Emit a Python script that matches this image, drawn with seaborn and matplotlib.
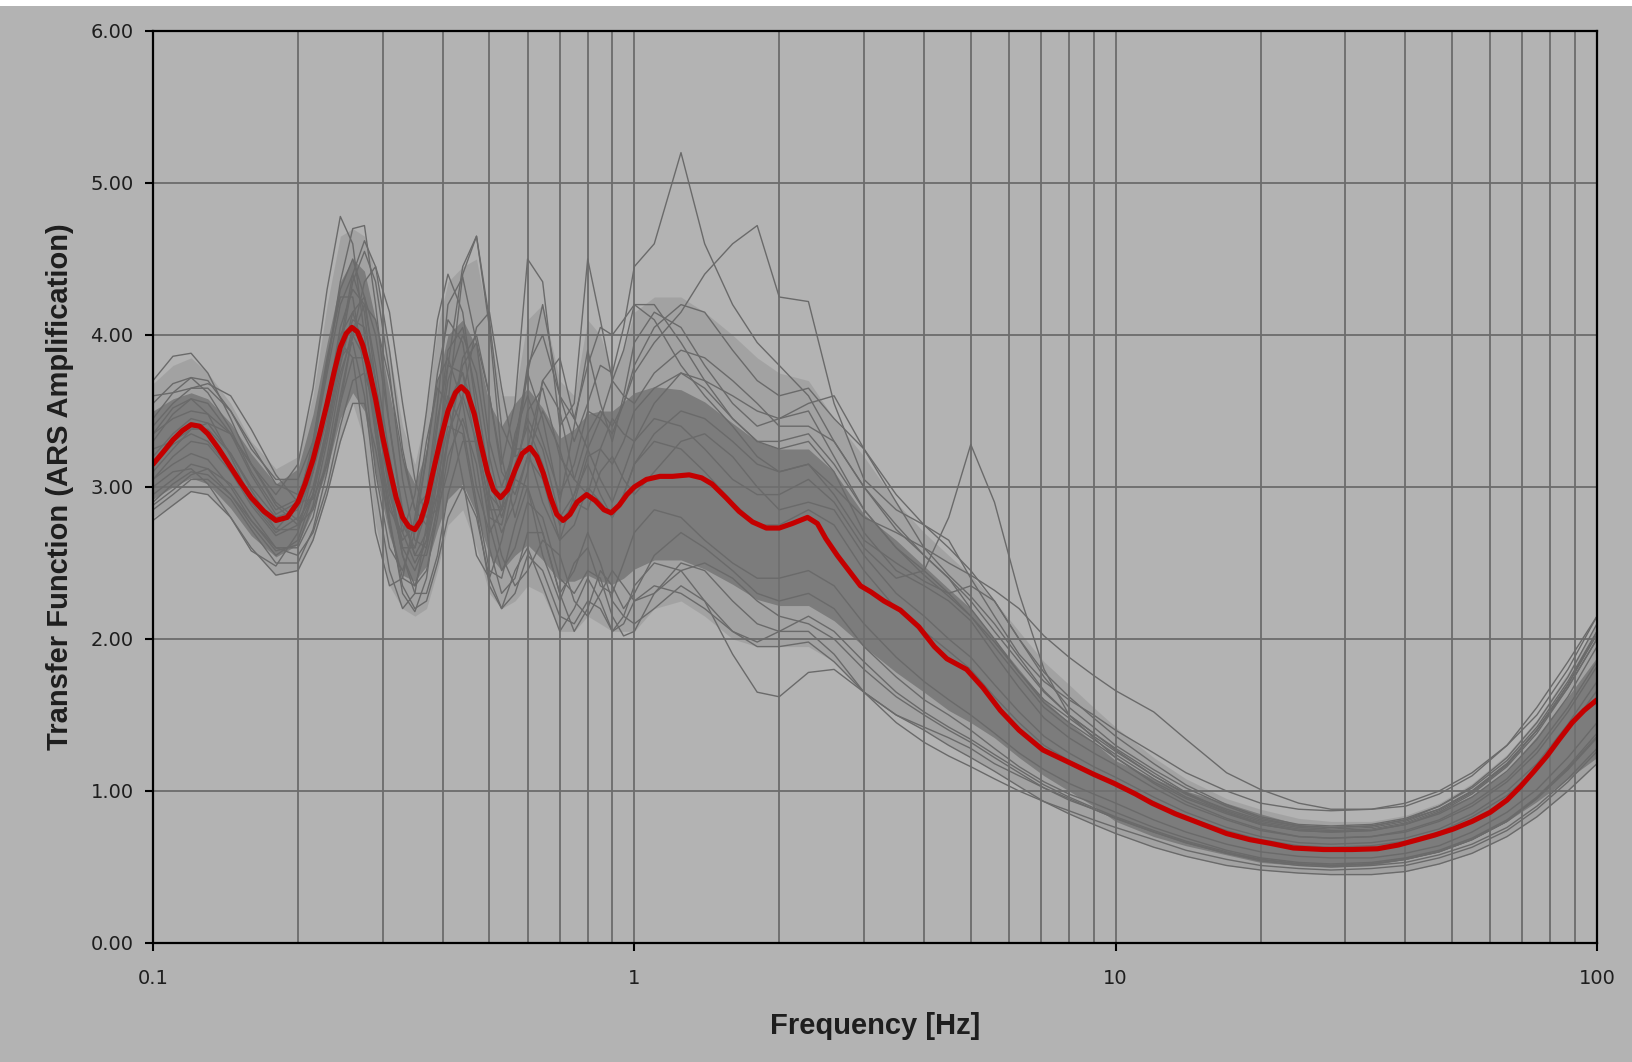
import numpy as np
import pandas as pd
import matplotlib
matplotlib.use('Agg')
import matplotlib.pyplot as plt
import seaborn as sns
from matplotlib.ticker import FixedLocator, FuncFormatter, LogLocator, NullFormatter
from matplotlib.patches import Rectangle

# Frequency grid (Hz) shared by the gray realisations
freq_hz = [0.10, 0.11, 0.12, 0.13, 0.145, 0.16, 0.18, 0.20, 0.215, 0.23,
           0.245, 0.26, 0.275, 0.29, 0.31, 0.33, 0.35, 0.37, 0.39, 0.41,
           0.44, 0.47, 0.50, 0.53, 0.565, 0.60, 0.645, 0.70, 0.75, 0.80,
           0.85, 0.90, 0.95, 1.0, 1.1, 1.25, 1.4, 1.6, 1.8, 2.0,
           2.3, 2.6, 3.0, 3.5, 4.0, 4.5, 5.0, 5.6, 6.3, 7.1,
           8.0, 9.0, 10, 12, 14, 17, 20, 24, 28, 34,
           40, 47, 55, 65, 75, 87, 100]

# Median transfer function (red), read on its own finer grid
median_freq = [0.100, 0.105, 0.110, 0.115, 0.120, 0.125, 0.130, 0.137, 0.145, 0.152,
               0.160, 0.170, 0.180, 0.190, 0.200, 0.207, 0.215, 0.222, 0.230, 0.238,
               0.245, 0.252, 0.259, 0.266, 0.273, 0.280, 0.290, 0.300, 0.310, 0.320,
               0.330, 0.340, 0.350, 0.360, 0.370, 0.380, 0.395, 0.410, 0.425, 0.437,
               0.450, 0.465, 0.480, 0.495, 0.510, 0.527, 0.545, 0.565, 0.585, 0.607,
               0.627, 0.647, 0.670, 0.690, 0.711, 0.735, 0.760, 0.796, 0.830, 0.865,
               0.895, 0.930, 0.965, 1.000, 1.060, 1.130, 1.200, 1.300, 1.380, 1.450,
               1.550, 1.650, 1.760, 1.880, 2.000, 2.130, 2.290, 2.400, 2.500, 2.640,
               2.760, 2.950, 3.100, 3.300, 3.570, 3.900, 4.200, 4.460, 4.900, 5.300,
               5.760, 6.300, 7.060, 8.100, 9.000, 9.930, 11.00, 11.90, 13.30, 14.90,
               17.00, 19.00, 21.00, 23.40, 27.00, 31.00, 35.00, 38.70, 42.50, 46.00,
               50.30, 55.00, 60.00, 65.00, 69.40, 74.00, 78.70, 83.50, 88.80, 94.00,
               100.0]
median_amp = [3.15, 3.23, 3.31, 3.37, 3.41, 3.40, 3.35, 3.25, 3.13, 3.03,
              2.93, 2.84, 2.78, 2.80, 2.90, 3.02, 3.18, 3.35, 3.55, 3.76,
              3.92, 4.01, 4.05, 4.02, 3.93, 3.80, 3.58, 3.33, 3.12, 2.93,
              2.80, 2.74, 2.72, 2.78, 2.90, 3.07, 3.30, 3.50, 3.62, 3.66,
              3.62, 3.48, 3.28, 3.10, 2.98, 2.93, 2.98, 3.11, 3.22, 3.26,
              3.20, 3.09, 2.93, 2.82, 2.78, 2.82, 2.90, 2.95, 2.91, 2.85,
              2.83, 2.88, 2.95, 3.00, 3.05, 3.07, 3.07, 3.08, 3.06, 3.02,
              2.93, 2.84, 2.77, 2.73, 2.73, 2.76, 2.80, 2.76, 2.66, 2.55,
              2.47, 2.35, 2.31, 2.25, 2.19, 2.08, 1.95, 1.87, 1.80, 1.68,
              1.53, 1.40, 1.27, 1.18, 1.11, 1.05, 0.98, 0.92, 0.85, 0.79,
              0.72, 0.68, 0.655, 0.625, 0.615, 0.615, 0.62, 0.645, 0.68, 0.71,
              0.75, 0.80, 0.86, 0.94, 1.03, 1.13, 1.23, 1.34, 1.45, 1.53,
              1.60]

# Overall spread of the realisations (where lines are still frequent)
spread_low = [2.80, 2.88, 2.97, 2.95, 2.80, 2.60, 2.42, 2.45, 2.65, 2.95,
              3.30, 3.55, 3.30, 2.75, 2.35, 2.20, 2.15, 2.20, 2.45, 2.75,
              2.85, 2.60, 2.30, 2.20, 2.25, 2.35, 2.30, 2.05, 2.05, 2.15,
              2.10, 2.05, 2.05, 2.05, 2.20, 2.25, 2.15, 2.00, 1.95, 1.95,
              1.95, 1.85, 1.65, 1.50, 1.40, 1.30, 1.22, 1.13, 1.03, 0.93,
              0.85, 0.78, 0.72, 0.63, 0.57, 0.51, 0.48, 0.46, 0.45, 0.45,
              0.47, 0.52, 0.59, 0.70, 0.83, 1.00, 1.18]
spread_high = [3.68, 3.80, 3.85, 3.75, 3.55, 3.30, 3.12, 3.20, 3.60, 4.20,
               4.65, 4.70, 4.65, 4.40, 3.90, 3.40, 3.15, 3.50, 4.05, 4.35,
               4.45, 4.50, 4.05, 3.60, 3.60, 4.10, 4.20, 3.70, 3.60, 4.10,
               4.00, 3.75, 3.90, 4.15, 4.25, 4.25, 4.15, 4.00, 3.85, 3.75,
               3.70, 3.45, 3.20, 2.90, 2.70, 2.55, 2.42, 2.25, 2.05, 1.85,
               1.70, 1.55, 1.42, 1.22, 1.08, 0.95, 0.88, 0.82, 0.80, 0.80,
               0.84, 0.92, 1.05, 1.24, 1.47, 1.78, 2.10]

# Dense core of the realisations (where the gray lines pile up)
core_low = [2.92, 3.00, 3.06, 3.02, 2.86, 2.68, 2.54, 2.62, 2.85, 3.12,
            3.45, 3.62, 3.50, 3.10, 2.68, 2.42, 2.38, 2.48, 2.72, 2.92,
            3.02, 2.82, 2.55, 2.45, 2.55, 2.62, 2.52, 2.38, 2.38, 2.42,
            2.38, 2.36, 2.40, 2.46, 2.52, 2.52, 2.46, 2.36, 2.26, 2.22,
            2.22, 2.12, 1.95, 1.78, 1.65, 1.53, 1.45, 1.35, 1.22, 1.10,
            1.00, 0.90, 0.80, 0.70, 0.64, 0.58, 0.53, 0.51, 0.50, 0.51,
            0.55, 0.60, 0.68, 0.80, 0.93, 1.08, 1.22]
core_high = [3.50, 3.58, 3.62, 3.58, 3.42, 3.22, 3.02, 3.12, 3.48, 3.95,
             4.35, 4.50, 4.42, 4.10, 3.62, 3.18, 3.02, 3.25, 3.70, 4.00,
             4.10, 3.92, 3.55, 3.40, 3.55, 3.65, 3.52, 3.32, 3.38, 3.48,
             3.50, 3.50, 3.56, 3.62, 3.66, 3.64, 3.56, 3.42, 3.30, 3.25,
             3.25, 3.10, 2.82, 2.65, 2.48, 2.33, 2.20, 2.00, 1.80, 1.60,
             1.45, 1.32, 1.20, 1.08, 1.00, 0.92, 0.85, 0.78, 0.75, 0.75,
             0.79, 0.87, 0.97, 1.13, 1.36, 1.62, 1.88]

# Individual realisations (gray)
g01 = [3.70, 3.86, 3.88, 3.75, 3.45, 3.15, 2.95, 3.15, 3.65, 4.30,
       4.78, 4.60, 4.00, 3.35, 2.85, 2.70, 2.95, 3.50, 4.10, 4.40,
       4.15, 3.50, 2.95, 2.85, 3.30, 3.75, 3.45, 2.90, 3.40, 3.90,
       3.55, 3.30, 3.60, 3.95, 4.15, 4.05, 3.80, 3.55, 3.40, 3.45,
       3.50, 3.20, 2.85, 2.60, 2.45, 2.30, 2.15, 1.95, 1.75, 1.55,
       1.42, 1.32, 1.22, 1.06, 0.95, 0.85, 0.78, 0.74, 0.73, 0.74,
       0.78, 0.86, 0.98, 1.16, 1.38, 1.68, 2.00]
g02 = [3.45, 3.62, 3.72, 3.70, 3.50, 3.25, 3.05, 3.05, 3.30, 3.80,
       4.35, 4.70, 4.72, 4.20, 3.40, 2.80, 2.55, 2.70, 3.20, 3.80,
       4.45, 4.65, 4.10, 3.40, 3.20, 3.75, 4.20, 3.60, 3.30, 3.55,
       3.80, 3.75, 4.05, 4.45, 4.60, 5.20, 4.60, 4.20, 3.95, 3.80,
       3.60, 3.30, 3.00, 2.72, 2.55, 2.40, 2.20, 2.00, 1.78, 1.60,
       1.48, 1.36, 1.26, 1.10, 0.98, 0.88, 0.81, 0.77, 0.76, 0.77,
       0.81, 0.90, 1.03, 1.22, 1.45, 1.75, 2.10]
g03 = [3.30, 3.48, 3.58, 3.55, 3.35, 3.08, 2.82, 2.90, 3.25, 3.80,
       4.30, 4.50, 4.25, 3.70, 3.05, 2.60, 2.45, 2.65, 3.20, 3.70,
       4.00, 3.75, 3.20, 2.85, 3.05, 3.50, 3.65, 3.20, 3.05, 3.35,
       3.50, 3.40, 3.55, 3.75, 3.95, 4.15, 4.40, 4.60, 4.72, 4.25,
       4.22, 3.55, 3.05, 2.85, 2.75, 2.65, 2.40, 2.15, 1.90, 1.72,
       1.60, 1.50, 1.40, 1.25, 1.12, 1.00, 0.92, 0.88, 0.87, 0.88,
       0.92, 1.00, 1.12, 1.30, 1.50, 1.80, 2.15]
g04 = [3.20, 3.35, 3.45, 3.42, 3.22, 3.00, 2.80, 2.85, 3.10, 3.55,
       4.05, 4.30, 4.20, 3.80, 3.20, 2.75, 2.60, 2.85, 3.40, 3.90,
       4.05, 3.60, 3.05, 2.80, 3.10, 3.45, 3.25, 2.80, 2.95, 3.25,
       3.05, 2.90, 3.10, 3.30, 3.45, 3.40, 3.25, 3.05, 2.95, 2.95,
       3.05, 2.90, 2.60, 2.40, 2.45, 2.80, 3.28, 2.90, 2.30, 1.80,
       1.50, 1.35, 1.22, 1.05, 0.93, 0.82, 0.75, 0.70, 0.69, 0.70,
       0.74, 0.81, 0.92, 1.08, 1.28, 1.55, 1.85]
g05 = [3.05, 3.20, 3.30, 3.28, 3.10, 2.88, 2.68, 2.75, 3.00, 3.40,
       3.85, 4.10, 4.05, 3.70, 3.15, 2.70, 2.50, 2.65, 3.10, 3.55,
       3.75, 3.45, 2.95, 2.70, 2.90, 3.20, 3.05, 2.65, 2.75, 3.00,
       2.90, 2.80, 2.95, 3.15, 3.35, 3.50, 3.45, 3.30, 3.15, 3.10,
       3.15, 3.00, 2.80, 2.70, 2.60, 2.50, 2.42, 2.32, 2.20, 2.02,
       1.88, 1.76, 1.66, 1.52, 1.34, 1.12, 1.01, 0.92, 0.88, 0.88,
       0.90, 0.98, 1.10, 1.30, 1.55, 1.85, 2.15]
g06 = [2.78, 2.88, 2.97, 2.95, 2.80, 2.60, 2.42, 2.45, 2.65, 2.95,
       3.30, 3.55, 3.55, 3.25, 2.75, 2.35, 2.20, 2.25, 2.50, 2.80,
       3.00, 2.80, 2.40, 2.20, 2.30, 2.55, 2.45, 2.15, 2.10, 2.25,
       2.20, 2.05, 2.10, 2.25, 2.35, 2.30, 2.20, 2.05, 1.95, 1.95,
       1.98, 1.85, 1.65, 1.50, 1.40, 1.30, 1.22, 1.13, 1.03, 0.93,
       0.85, 0.78, 0.72, 0.63, 0.57, 0.51, 0.48, 0.46, 0.45, 0.45,
       0.47, 0.52, 0.59, 0.70, 0.83, 1.00, 1.18]
g07 = [2.95, 3.05, 3.15, 3.12, 2.95, 2.75, 2.55, 2.65, 2.95, 3.40,
       3.85, 3.95, 3.60, 3.00, 2.45, 2.20, 2.30, 2.75, 3.30, 3.60,
       3.40, 2.90, 2.45, 2.40, 2.75, 3.00, 2.70, 2.30, 2.45, 2.70,
       2.50, 2.25, 2.15, 2.10, 2.20, 2.35, 2.25, 1.90, 1.65, 1.62,
       1.78, 1.80, 1.65, 1.50, 1.42, 1.35, 1.28, 1.18, 1.10, 1.02,
       0.95, 0.88, 0.82, 0.73, 0.66, 0.59, 0.54, 0.51, 0.50, 0.51,
       0.53, 0.58, 0.65, 0.76, 0.90, 1.08, 1.28]
g08 = [3.35, 3.45, 3.50, 3.48, 3.35, 3.15, 2.90, 2.78, 2.95, 3.35,
       3.90, 4.35, 4.55, 4.35, 3.75, 3.05, 2.65, 2.60, 2.95, 3.55,
       4.40, 4.65, 4.05, 3.20, 2.80, 3.10, 3.70, 3.50, 3.05, 2.95,
       3.25, 3.45, 3.35, 3.30, 3.55, 3.75, 3.65, 3.45, 3.30, 3.25,
       3.30, 3.10, 2.70, 2.45, 2.35, 2.25, 2.12, 1.90, 1.68, 1.48,
       1.35, 1.25, 1.17, 1.02, 0.91, 0.81, 0.74, 0.70, 0.69, 0.70,
       0.73, 0.80, 0.90, 1.06, 1.25, 1.52, 1.82]
g09 = [3.10, 3.25, 3.38, 3.38, 3.22, 2.98, 2.72, 2.72, 2.95, 3.35,
       3.80, 4.15, 4.25, 4.00, 3.40, 2.85, 2.55, 2.55, 2.85, 3.30,
       3.85, 4.00, 3.60, 3.15, 3.55, 4.50, 4.35, 3.40, 3.55, 4.50,
       4.10, 3.70, 3.90, 4.20, 4.10, 3.80, 3.60, 3.40, 3.20, 3.10,
       3.15, 2.95, 2.65, 2.50, 2.38, 2.30, 2.35, 2.25, 2.00, 1.75,
       1.55, 1.42, 1.30, 1.14, 1.02, 0.90, 0.82, 0.77, 0.76, 0.77,
       0.81, 0.88, 1.00, 1.18, 1.40, 1.68, 2.00]
g10 = [2.85, 2.95, 3.05, 3.05, 2.92, 2.72, 2.50, 2.50, 2.72, 3.10,
       3.55, 3.85, 3.85, 3.55, 3.00, 2.55, 2.35, 2.45, 2.80, 3.20,
       3.45, 3.15, 2.60, 2.30, 2.40, 2.70, 2.70, 2.30, 2.05, 2.20,
       2.45, 2.35, 2.20, 2.30, 2.55, 2.70, 2.60, 2.45, 2.30, 2.25,
       2.30, 2.20, 1.95, 1.75, 1.60, 1.50, 1.40, 1.28, 1.16, 1.06,
       0.98, 0.92, 0.86, 0.76, 0.69, 0.61, 0.56, 0.53, 0.52, 0.53,
       0.56, 0.61, 0.69, 0.81, 0.96, 1.16, 1.38]
g11 = [3.25, 3.30, 3.38, 3.42, 3.35, 3.15, 2.88, 2.75, 2.85, 3.15,
       3.60, 4.00, 4.20, 4.10, 3.70, 3.20, 2.85, 2.75, 2.95, 3.30,
       3.80, 3.95, 3.60, 3.10, 2.95, 3.20, 3.50, 3.25, 2.90, 2.85,
       3.10, 3.20, 3.05, 2.95, 3.10, 3.30, 3.35, 3.20, 3.00, 2.85,
       2.90, 2.85, 2.55, 2.30, 2.15, 2.00, 1.88, 1.70, 1.52, 1.36,
       1.25, 1.16, 1.09, 0.96, 0.86, 0.76, 0.70, 0.66, 0.65, 0.66,
       0.69, 0.75, 0.85, 1.00, 1.18, 1.44, 1.72]
g12 = [3.00, 3.10, 3.12, 3.02, 2.80, 2.58, 2.48, 2.70, 3.10, 3.60,
       3.95, 3.85, 3.30, 2.70, 2.35, 2.40, 2.80, 3.30, 3.65, 3.55,
       3.05, 2.55, 2.40, 2.65, 3.05, 3.00, 2.55, 2.25, 2.50, 2.60,
       2.35, 2.30, 2.50, 2.70, 2.85, 2.80, 2.65, 2.50, 2.40, 2.40,
       2.45, 2.35, 2.10, 1.88, 1.72, 1.60, 1.50, 1.38, 1.25, 1.14,
       1.05, 0.98, 0.92, 0.81, 0.73, 0.65, 0.60, 0.57, 0.56, 0.56,
       0.59, 0.64, 0.73, 0.86, 1.01, 1.22, 1.45]
g13 = [3.55, 3.68, 3.72, 3.62, 3.38, 3.10, 2.85, 2.92, 3.25, 3.75,
       4.20, 4.40, 4.15, 3.55, 2.95, 2.65, 2.75, 3.20, 3.75, 4.10,
       3.95, 3.35, 2.85, 2.85, 3.35, 3.60, 3.30, 2.95, 3.15, 3.50,
       3.45, 3.35, 3.55, 3.80, 4.05, 4.20, 4.15, 3.90, 3.70, 3.60,
       3.65, 3.45, 3.25, 2.90, 2.60, 2.42, 2.28, 2.10, 1.88, 1.66,
       1.50, 1.38, 1.28, 1.12, 0.99, 0.87, 0.80, 0.76, 0.75, 0.76,
       0.80, 0.88, 1.00, 1.18, 1.40, 1.70, 2.05]
g14 = [2.90, 3.02, 3.10, 3.08, 2.95, 2.78, 2.60, 2.60, 2.80, 3.20,
       3.70, 4.05, 3.95, 3.45, 2.80, 2.30, 2.18, 2.40, 2.90, 3.35,
       3.60, 3.30, 2.75, 2.45, 2.60, 2.90, 2.80, 2.40, 2.30, 2.45,
       2.40, 2.15, 2.02, 2.05, 2.30, 2.50, 2.45, 2.25, 2.10, 2.05,
       2.05, 1.90, 1.65, 1.45, 1.32, 1.23, 1.16, 1.08, 1.00, 0.93,
       0.87, 0.81, 0.76, 0.68, 0.61, 0.55, 0.51, 0.49, 0.48, 0.49,
       0.51, 0.56, 0.63, 0.74, 0.88, 1.06, 1.26]
g15 = [3.40, 3.55, 3.65, 3.65, 3.50, 3.28, 3.02, 2.95, 3.10, 3.45,
       3.95, 4.40, 4.62, 4.45, 3.90, 3.25, 2.85, 2.95, 3.55, 4.20,
       4.38, 3.95, 3.30, 3.00, 3.25, 3.80, 4.00, 3.60, 3.45, 3.80,
       4.05, 4.00, 4.10, 4.20, 4.20, 3.95, 3.70, 3.45, 3.30, 3.30,
       3.35, 3.15, 2.85, 2.60, 2.42, 2.28, 2.15, 1.98, 1.78, 1.58,
       1.45, 1.34, 1.24, 1.08, 0.96, 0.86, 0.79, 0.75, 0.74, 0.75,
       0.79, 0.87, 0.99, 1.17, 1.40, 1.70, 2.03]
g16 = [2.88, 2.98, 3.08, 3.12, 3.02, 2.82, 2.60, 2.55, 2.70, 3.00,
       3.40, 3.70, 3.75, 3.50, 3.00, 2.55, 2.30, 2.30, 2.55, 2.95,
       3.30, 3.30, 2.90, 2.55, 2.35, 2.45, 2.65, 2.55, 2.25, 2.15,
       2.30, 2.45, 2.35, 2.25, 2.30, 2.45, 2.50, 2.40, 2.25, 2.15,
       2.10, 2.00, 1.80, 1.62, 1.50, 1.40, 1.32, 1.22, 1.12, 1.02,
       0.94, 0.88, 0.82, 0.73, 0.66, 0.59, 0.55, 0.52, 0.51, 0.52,
       0.55, 0.60, 0.68, 0.80, 0.95, 1.14, 1.35]
g17 = [3.15, 3.28, 3.35, 3.30, 3.12, 2.90, 2.70, 2.80, 3.10, 3.55,
       4.00, 4.15, 3.90, 3.40, 2.90, 2.60, 2.60, 2.95, 3.45, 3.80,
       3.75, 3.25, 2.80, 2.75, 3.15, 3.40, 3.15, 2.75, 2.90, 3.20,
       3.25, 3.15, 3.30, 3.50, 3.65, 3.75, 3.70, 3.60, 3.50, 3.45,
       3.55, 3.60, 3.25, 2.95, 2.75, 2.60, 2.45, 2.25, 2.00, 1.78,
       1.62, 1.48, 1.36, 1.18, 1.04, 0.91, 0.83, 0.78, 0.77, 0.78,
       0.82, 0.90, 1.02, 1.20, 1.42, 1.72, 2.05]
g18 = [3.05, 3.15, 3.22, 3.18, 3.00, 2.78, 2.58, 2.62, 2.88, 3.30,
       3.75, 4.00, 3.85, 3.35, 2.75, 2.40, 2.35, 2.60, 3.05, 3.40,
       3.35, 2.85, 2.35, 2.20, 2.45, 2.60, 2.35, 2.05, 2.20, 2.40,
       2.25, 2.05, 2.15, 2.35, 2.50, 2.45, 2.25, 2.05, 1.98, 2.05,
       2.15, 2.05, 1.85, 1.65, 1.52, 1.42, 1.34, 1.24, 1.14, 1.04,
       0.96, 0.89, 0.83, 0.74, 0.67, 0.60, 0.55, 0.52, 0.51, 0.52,
       0.55, 0.60, 0.68, 0.80, 0.95, 1.15, 1.36]
g19 = [3.35, 3.52, 3.58, 3.48, 3.20, 2.92, 2.72, 2.88, 3.30, 3.85,
       4.25, 4.25, 3.75, 3.10, 2.60, 2.45, 2.70, 3.20, 3.70, 3.85,
       3.55, 3.00, 2.70, 2.85, 3.25, 3.25, 2.90, 2.65, 2.95, 3.15,
       2.95, 2.80, 2.95, 3.15, 3.30, 3.25, 3.10, 2.90, 2.75, 2.75,
       2.85, 2.75, 2.45, 2.20, 2.05, 1.92, 1.80, 1.62, 1.45, 1.30,
       1.20, 1.12, 1.05, 0.93, 0.83, 0.74, 0.68, 0.64, 0.63, 0.64,
       0.67, 0.73, 0.83, 0.97, 1.15, 1.40, 1.66]
g20 = [3.60, 3.62, 3.65, 3.68, 3.60, 3.38, 3.08, 2.90, 2.92, 3.15,
       3.55, 4.00, 4.35, 4.45, 4.15, 3.55, 3.05, 2.80, 2.85, 3.10,
       3.60, 4.05, 4.15, 3.65, 3.20, 3.25, 3.70, 3.85, 3.45, 3.25,
       3.45, 3.70, 3.60, 3.55, 3.75, 3.90, 3.85, 3.70, 3.55, 3.40,
       3.40, 3.30, 3.00, 2.75, 2.55, 2.40, 2.25, 2.05, 1.85, 1.65,
       1.50, 1.38, 1.27, 1.10, 0.98, 0.86, 0.78, 0.74, 0.73, 0.74,
       0.78, 0.85, 0.96, 1.13, 1.34, 1.62, 1.95]

gray_runs = [g01, g02, g03, g04, g05, g06, g07, g08, g09, g10,
             g11, g12, g13, g14, g15, g16, g17, g18, g19, g20]

# long-form table for seaborn
rows = []
for i, run in enumerate(gray_runs):
    for f, v in zip(freq_hz, run):
        rows.append((i, f, v))
runs = pd.DataFrame(rows, columns=['run', 'freq', 'amp'])
median_df = pd.DataFrame({'freq': median_freq, 'amp': median_amp})

sns.set_style('ticks')
plt.rcParams['font.family'] = ['Liberation Sans', 'DejaVu Sans']

bg = '#b3b3b3'
line_gray = '#6a6a6a'
grid_gray = '#6c6c6c'

fig, ax = plt.subplots(figsize=(16.33, 10.62), dpi=100)
fig.patch.set_facecolor(bg)
ax.set_facecolor(bg)
fig.subplots_adjust(left=153 / 1633, right=1597 / 1633,
                    top=1 - 31 / 1062, bottom=1 - 943 / 1062)

ax.set_xscale('log')

# overlapping realisations: light tint for the spread, darker for the pile-up
ax.fill_between(freq_hz, spread_low, spread_high, color='#6a6a6a', lw=0,
                alpha=0.22, zorder=2)
ax.fill_between(freq_hz, core_low, core_high, color='#707070', lw=0,
                alpha=0.75, zorder=2)
sns.lineplot(data=runs, x='freq', y='amp', units='run', estimator=None,
             color=line_gray, lw=1.0, ax=ax, legend=False, zorder=3,
             solid_joinstyle='round')
sns.lineplot(data=median_df, x='freq', y='amp', color='#c40000', lw=3.7,
             ax=ax, zorder=4, solid_joinstyle='round')

ax.set_xlim(0.1, 100)
ax.set_ylim(0, 6)

ax.xaxis.set_major_locator(FixedLocator([0.1, 1, 10, 100]))
ax.xaxis.set_major_formatter(FuncFormatter(lambda x, p: f'{x:g}'))
ax.xaxis.set_minor_locator(LogLocator(base=10, subs=np.arange(2, 10)))
ax.xaxis.set_minor_formatter(NullFormatter())
ax.set_yticks(np.arange(0, 7, 1))
ax.yaxis.set_major_formatter(FuncFormatter(lambda y, p: f'{y:.2f}'))

ax.grid(which='both', axis='x', color=grid_gray, lw=1.3)
ax.grid(which='major', axis='y', color=grid_gray, lw=1.3)
ax.set_axisbelow(True)

ax.tick_params(which='major', direction='out', length=6, width=1.5,
               color='black', labelsize=14, labelcolor='#1e1e1e')
ax.tick_params(axis='x', which='major', pad=13)
ax.tick_params(axis='y', which='major', pad=8)
ax.tick_params(which='minor', length=0)
for lab in ax.get_xticklabels() + ax.get_yticklabels():
    lab.set_fontfamily(['DejaVu Sans'])

for side in ['left', 'right', 'top', 'bottom']:
    ax.spines[side].set_color('black')
    ax.spines[side].set_linewidth(1.6)
    ax.spines[side].set_zorder(5)

ax.set_xlabel('Frequency [Hz]', fontsize=21, fontweight='bold', color='#1e1e1e')
ax.set_ylabel('Transfer Function (ARS Amplification)', fontsize=21,
              fontweight='bold', color='#1e1e1e')
ax.xaxis.set_label_coords(0.5, -0.076)
ax.yaxis.set_label_coords(-0.055, 0.5)

# thin white strip along the top edge
fig.add_artist(Rectangle((0, 1 - 6 / 1062), 1, 6 / 1062, transform=fig.transFigure,
                         facecolor='white', edgecolor='none'))

fig.savefig('out.png', dpi=100, facecolor=bg)
